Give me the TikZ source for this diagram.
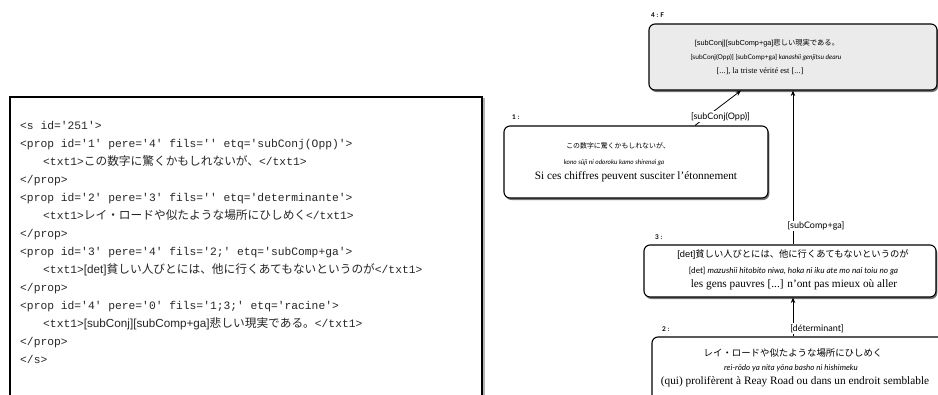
\documentclass[tikz,border=0pt]{standalone}
\usepackage{fontspec}
\setmainfont{Liberation Serif}
\setmonofont{Liberation Mono}
\newfontfamily\jp{Noto Sans CJK JP}
\newfontfamily\hv{Liberation Sans}
\newfontfamily\gs{Lato}
\newcommand\JPsrc{\jp\fontsize{11.7}{13}\selectfont}
\newcommand\HVsrc{\hv\fontsize{11.7}{13}\selectfont}
\usetikzlibrary{arrows.meta,shadows}
\begin{document}
\begin{tikzpicture}[x=1pt,y=-1pt,
  mono/.style={anchor=west, inner sep=0pt, text height=8pt, text depth=2.5pt, font=\ttfamily\fontsize{11.3}{13}\selectfont, text=black!85},
  nodebox/.style={draw=black, line width=1.1pt, rounded corners=6pt, fill=white, inner sep=0pt,
    drop shadow={shadow xshift=1.3pt, shadow yshift=-2pt, opacity=0.55, fill=black}},
  srcbox/.style={draw=black, line width=1.4pt, fill=white, inner sep=0pt,
    drop shadow={shadow xshift=2.5pt, shadow yshift=-1pt, opacity=0.3, fill=black}},
  txt/.style={inner sep=0pt, anchor=center},
  num/.style={anchor=west, inner sep=0pt, font=\gs\bfseries\fontsize{6.5}{7}\selectfont},
  elabel/.style={fill=white, inner sep=1.2pt, font=\gs\fontsize{9}{10}\selectfont},
  arr/.style={-{Stealth[length=5.5pt,width=4.5pt]}, line width=0.8pt}]

\useasboundingbox (0,0) rectangle (938,394);
\clip (0,0) rectangle (938,394);

% source listing
\node[srcbox, minimum width=472pt, minimum height=330pt] (src) at (246,262) {};
\node[mono] (l0) at (20,127) {<s id='251'>};
\node[mono] (l1) at (20,145) {<prop id='1' pere='4' fils='' etq='subConj(Opp)'>};
\node[mono] (l2) at (43,163) {<txt1>{\JPsrc この数字に驚くかもしれないが、}</txt1>};
\node[mono] (l3) at (20,181) {</prop>};
\node[mono] (l4) at (20,199) {<prop id='2' pere='3' fils='' etq='determinante'>};
\node[mono] (l5) at (43,217) {<txt1>{\JPsrc レイ・ロードや似たような場所にひしめく}</txt1>};
\node[mono] (l6) at (20,235) {</prop>};
\node[mono] (l7) at (20,253) {<prop id='3' pere='4' fils='2;' etq='subComp+ga'>};
\node[mono] (l8) at (43,271) {<txt1>{\HVsrc [det]}{\JPsrc 貧しい人びとには、他に行くあてもないというのが}</txt1>};
\node[mono] (l9) at (20,289) {</prop>};
\node[mono] (l10) at (20,307) {<prop id='4' pere='0' fils='1;3;' etq='racine'>};
\node[mono] (l11) at (43,325) {<txt1>{\HVsrc [subConj][subComp+ga]}{\JPsrc 悲しい現実である。}</txt1>};
\node[mono] (l12) at (20,343) {</prop>};
\node[mono] (l13) at (20,361) {</s>};

% node 4
\node[nodebox, fill=black!8, minimum width=288pt, minimum height=66pt] (n4) at (793,57) {};
\node[num] (n4num) at (651,15) {4 : F};
\node[txt] (n4a) at (767,43) {\hv\fontsize{7.3}{8}\selectfont [subConj][subComp+ga]{\jp 悲しい現実である。}};
\node[txt] (n4b) at (766,57.5) {\gs\fontsize{6.6}{8}\selectfont [subConj(Opp)] [subComp+ga] \itshape kanashii genjitsu dearu};
\node[txt] (n4c) at (760,71) {\fontsize{8.3}{9}\selectfont [...], la triste vérité est [...]};

% node 1
\node[nodebox, minimum width=264pt, minimum height=72pt] (n1) at (636,162) {};
\node[num] (n1num) at (512,117) {1 :};
\node[txt] (n1a) at (618,146) {\jp\fontsize{6.9}{8}\selectfont この数字に驚くかもしれないが、};
\node[txt] (n1b) at (614,162.5) {\gs\itshape\fontsize{6.5}{7}\selectfont kono sūji ni odoroku kamo shirenai ga};
\node[txt] (n1c) at (636,177) {\fontsize{11.3}{13}\selectfont Si ces chiffres peuvent susciter l'étonnement};

% node 3
\node[nodebox, minimum width=292pt, minimum height=52pt] (n3) at (790,271) {};
\node[num] (n3num) at (655,237) {3 :};
\node[txt] (n3a) at (793,255) {\hv\fontsize{9.3}{10}\selectfont [det]{\jp 貧しい人びとには、他に行くあてもないというのが}};
\node[txt] (n3b) at (793.5,271) {\gs\fontsize{8.2}{9}\selectfont [det] \itshape mazushii hitobito niwa, hoka ni iku ate mo nai toiu no ga};
\node[txt] (n3c) at (794,285) {\fontsize{11.3}{13}\selectfont les gens pauvres [...] n'ont pas mieux où aller};

% node 2
\node[nodebox, minimum width=293pt, minimum height=93pt] (n2) at (798.5,383.5) {};
\node[num] (n2num) at (662,329) {2 :};
\node[txt] (n2a) at (793,353) {\jp\fontsize{9.4}{10}\selectfont レイ・ロードや似たような場所にひしめく};
\node[txt] (n2b) at (791,368) {\gs\itshape\fontsize{8}{9}\selectfont rei-rōdo ya nita yōna basho ni hishimeku};
\node[txt] (n2c) at (795,382) {\fontsize{11.3}{13}\selectfont (qui) prolifèrent à Reay Road ou dans un endroit semblable};

% connectors
\draw[arr] ([xshift=59pt]n1.north) -- node[elabel, pos=0.25, xshift=14pt] (e14) {[subConj(Opp)]} ([xshift=-52pt]n4.south);
\draw[arr] (n3.north -| n4.south) -- node[elabel, pos=0.12, xshift=23pt] (e34) {[subComp+ga]} (n4.south);
\draw[arr] (n2.north -| n4.south) -- node[elabel, pos=0.2, xshift=24pt] (e23) {[déterminant]} (n3.south -| n4.south);
\end{tikzpicture}
\end{document}
